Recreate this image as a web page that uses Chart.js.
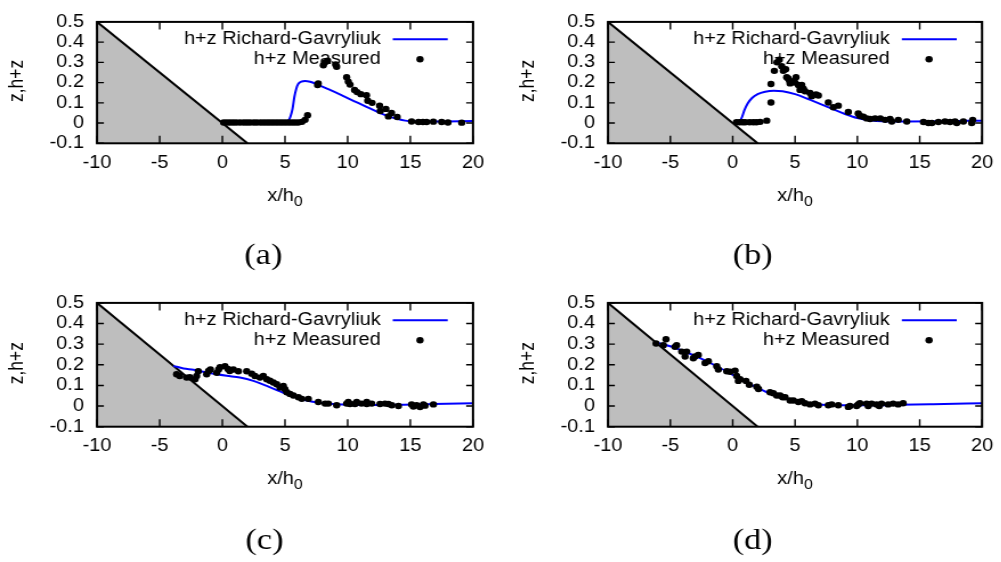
<!DOCTYPE html>
<html>
<head>
<meta charset="utf-8">
<script src="https://cdn.jsdelivr.net/npm/chart.js@4.4.1/dist/chart.umd.min.js"></script>
<style>
  html, body { margin: 0; padding: 0; background: #fff; width: 1001px; height: 562px; overflow: hidden; }
  .panel { position: absolute; transform: scaleX(1.14); transform-origin: 0 0; }
  .panel canvas { display: block; }
</style>
</head>
<body>
<div class="panel" style="left:0px;top:0px"><canvas id="panel-a" width="439" height="281"></canvas></div>
<div class="panel" style="left:511px;top:0px"><canvas id="panel-b" width="439" height="281"></canvas></div>
<div class="panel" style="left:0px;top:281px"><canvas id="panel-c" width="439" height="281"></canvas></div>
<div class="panel" style="left:511px;top:281px"><canvas id="panel-d" width="439" height="281"></canvas></div>
<script>
const xTicks = [-10, -5, 0, 5, 10, 15, 20]
const xTickLabels = ['-10', '-5', '0', '5', '10', '15', '20']
const yTicks = [-0.1, 0, 0.1, 0.2, 0.3, 0.4, 0.5]
const yTickLabels = ['-0.1', '0', '0.1', '0.2', '0.3', '0.4', '0.5']

const xTitle = 'x/h'
const xTitleSub = '0'
const yTitle = 'z,h+z'
const curveLabel = 'h+z Richard-Gavryliuk'
const measuredLabel = 'h+z Measured'

// slope (beach) z = -0.05 x
const slopeX = [-10, 2]
const slopeZ = [0.5, -0.1]

// (a)
const aCurveX = [0, 2, 4, 5, 5.3, 5.45, 5.6, 5.75, 5.9, 6.05, 6.3, 6.6, 7, 7.6, 8.5, 9.5, 10.5, 11.5, 12.5, 13.3, 14, 14.6, 15.2, 17, 20]
const aCurveY = [0.008, 0.008, 0.008, 0.008, 0.014, 0.035, 0.07, 0.13, 0.17, 0.193, 0.205, 0.208, 0.204, 0.19, 0.166, 0.138, 0.109, 0.08, 0.052, 0.033, 0.02, 0.012, 0.009, 0.008, 0.01]
const aMeasX = [0.1, 0.35, 0.6, 0.85, 1.1, 1.4, 1.7, 1.95, 2.2, 2.5, 2.75, 3.05, 3.3, 3.55, 3.8, 4.05, 4.3, 4.55, 4.8, 5.05, 5.3, 5.55, 5.8, 6.05, 6.35, 6.6, 6.8, 7.6, 7.65, 8.06, 8.2, 8.4, 9.04, 9.12, 9.92, 10.05, 10.19, 10.55, 10.75, 11.05, 11.5, 11.6, 11.95, 12.55, 12.6, 13.05, 13.25, 13.5, 13.95, 15.1, 15.65, 16, 16.3, 16.84, 17.5, 18, 19.1]
const aMeasY = [0.003, 0.003, 0.003, 0.003, 0.003, 0.003, 0.003, 0.003, 0.003, 0.003, 0.003, 0.003, 0.003, 0.003, 0.003, 0.003, 0.003, 0.003, 0.003, 0.003, 0.003, 0.003, 0.003, 0.003, 0.006, 0.016, 0.039, 0.188, 0.196, 0.286, 0.3, 0.308, 0.29, 0.278, 0.227, 0.205, 0.19, 0.164, 0.153, 0.143, 0.138, 0.11, 0.1, 0.086, 0.06, 0.07, 0.033, 0.05, 0.03, 0.008, 0.005, 0.005, 0.005, 0.007, 0.005, 0.003, 0.002]

// (b)
const bCurveX = [0.3, 0.55, 0.75, 0.95, 1.2, 1.55, 2, 2.6, 3.3, 4, 5, 6, 7, 8, 9, 10, 11, 12, 14, 17, 20]
const bCurveY = [0.004, 0.008, 0.03, 0.065, 0.097, 0.124, 0.143, 0.155, 0.16, 0.157, 0.143, 0.12, 0.095, 0.07, 0.045, 0.025, 0.014, 0.009, 0.008, 0.009, 0.012]
const bMeasX = [0.3, 0.55, 0.8, 1, 1.35, 1.65, 1.9, 2.2, 2.73, 3.07, 3.07, 3.34, 3.55, 3.74, 3.93, 4.06, 4.25, 4.33, 4.45, 4.54, 4.6, 4.7, 4.86, 5, 5.08, 5.26, 5.4, 5.54, 5.67, 5.8, 6.2, 6.34, 6.68, 6.87, 7.67, 8.07, 8.47, 9.27, 10.07, 10.2, 10.48, 10.75, 11.02, 11.42, 11.84, 12.23, 12.62, 12.76, 13.28, 13.96, 15.3, 15.7, 15.97, 16.5, 17.03, 17.43, 17.83, 17.97, 18.5, 19.17, 19.25]
const bMeasY = [0.004, 0.004, 0.004, 0.004, 0.004, 0.004, 0.004, 0.006, 0.012, 0.102, 0.193, 0.258, 0.3, 0.313, 0.281, 0.258, 0.266, 0.227, 0.22, 0.211, 0.196, 0.205, 0.203, 0.2, 0.227, 0.188, 0.164, 0.188, 0.17, 0.157, 0.149, 0.133, 0.141, 0.136, 0.102, 0.078, 0.086, 0.055, 0.047, 0.036, 0.031, 0.023, 0.02, 0.023, 0.023, 0.016, 0.02, 0.008, 0.016, 0.008, 0.005, 0, 0, 0.005, 0.008, 0.005, 0.008, 0, 0.008, 0, 0.016]

// (c)
const cCurveX = [-3.9, -3.1, -2.3, -1.25, 0.35, 1.4, 2.47, 3.54, 4.6, 5.67, 6.73, 7.8, 8.86, 10, 11.5, 14.2, 16.84, 20]
const cCurveY = [0.195, 0.182, 0.176, 0.163, 0.147, 0.138, 0.122, 0.098, 0.071, 0.046, 0.027, 0.016, 0.01, 0.007, 0.005, 0.006, 0.01, 0.014]
const cMeasX = [-3.65, -3.4, -2.85, -2.6, -2.18, -2.05, -1.92, -1.25, -1.1, -0.95, -0.45, -0.3, -0.19, 0.21, 0.45, 0.59, 0.88, 1.28, 1.94, 2.34, 2.6, 3, 3.27, 3.54, 3.8, 4.07, 4.34, 4.6, 4.87, 5, 5.14, 5.4, 5.67, 6.07, 6.34, 6.86, 7.66, 8.2, 8.46, 9.12, 9.92, 10.05, 10.19, 10.58, 10.72, 11.1, 11.52, 11.52, 11.92, 12.58, 12.98, 13.25, 13.52, 14.05, 15.1, 15.24, 15.5, 15.77, 16.04, 16.17, 16.84]
const cMeasY = [0.154, 0.146, 0.138, 0.14, 0.13, 0.146, 0.169, 0.154, 0.17, 0.177, 0.161, 0.177, 0.188, 0.193, 0.18, 0.17, 0.177, 0.169, 0.169, 0.157, 0.146, 0.138, 0.146, 0.13, 0.123, 0.114, 0.106, 0.09, 0.098, 0.082, 0.067, 0.059, 0.051, 0.043, 0.035, 0.035, 0.02, 0.012, 0.012, 0.004, 0.012, 0.02, 0.01, 0.01, 0.02, 0.012, 0.01, 0.02, 0.012, 0.01, 0.012, 0.01, 0.004, 0, 0.008, -0.002, 0.004, -0.005, 0.008, 0.002, 0.008]

// (d)
const dCurveX = [-6.2, -4.76, -2.62, -1.28, 0.05, 1.39, 2.73, 4.06, 5.4, 6.74, 8.07, 10.74, 13.4, 16.07, 20]
const dCurveY = [0.31, 0.285, 0.232, 0.193, 0.15, 0.106, 0.067, 0.04, 0.02, 0.009, 0.004, 0.004, 0.006, 0.009, 0.014]
const dMeasX = [-6.15, -5.56, -5.35, -4.63, -4.5, -4.09, -3.82, -3.69, -3.16, -3.02, -2.76, -2.22, -1.95, -1.28, -1.15, -0.48, -0.21, 0.19, 0.32, 0.45, 0.59, 1.07, 1.33, 1.93, 2.07, 2.99, 3.26, 3.53, 3.8, 4, 4.2, 4.6, 4.87, 5.27, 5.54, 5.8, 6.2, 6.6, 6.87, 7.67, 7.94, 8.47, 9.27, 9.4, 9.94, 10.07, 10.2, 10.74, 10.87, 11.14, 11.54, 11.75, 11.94, 12.47, 12.87, 13.27, 13.67]
const dMeasY = [0.303, 0.295, 0.324, 0.287, 0.295, 0.264, 0.24, 0.264, 0.232, 0.24, 0.248, 0.209, 0.217, 0.193, 0.177, 0.169, 0.166, 0.172, 0.146, 0.122, 0.13, 0.122, 0.103, 0.094, 0.083, 0.067, 0.062, 0.051, 0.051, 0.043, 0.043, 0.027, 0.027, 0.02, 0.024, 0.014, 0.008, 0.012, 0.004, 0.004, 0.008, 0.004, -0.004, 0, 0, 0.008, 0.014, 0.012, 0, 0.012, 0.008, 0, 0.012, 0.008, 0.012, 0.008, 0.014]

const fuente = '"Liberation Sans", Arial, sans-serif'
const fuenteSerif = '"Liberation Serif", "Times New Roman", serif'

const paneles = [
  { id: '#panel-a', caption: '(a)', curveX: aCurveX, curveY: aCurveY, measX: aMeasX, measY: aMeasY, padTop: 15, padRight: 24.1, xAxisH: 137.7, capX: 231, capY: 256 },
  { id: '#panel-b', caption: '(b)', curveX: bCurveX, curveY: bCurveY, measX: bMeasX, measY: bMeasY, padTop: 15, padRight: 25.8, xAxisH: 137.7, capX: 212, capY: 256 },
  { id: '#panel-c', caption: '(c)', curveX: cCurveX, curveY: cCurveY, measX: cMeasX, measY: cMeasY, padTop: 19, padRight: 24.1, xAxisH: 135.3, capX: 232, capY: 260 },
  { id: '#panel-d', caption: '(d)', curveX: dCurveX, curveY: dCurveY, measX: dMeasX, measY: dMeasY, padTop: 19, padRight: 25.8, xAxisH: 135.3, capX: 212, capY: 260 }
]

const toPoints = (xs, ys) => xs.map((x, i) => ({ x, y: ys[i] }))

// frame with inward ticks on all sides, key, axis titles and subcaption
const marcoPlugin = {
  id: 'marco',
  afterDraw(chart, args, opts) {
    const { ctx, chartArea: a, scales: { x, y } } = chart
    ctx.save()
    ctx.strokeStyle = '#000'
    ctx.lineWidth = 1.4
    ctx.beginPath()
    xTicks.forEach(v => {
      const px = x.getPixelForValue(v)
      ctx.moveTo(px, a.bottom); ctx.lineTo(px, a.bottom - 7.5)
      ctx.moveTo(px, a.top); ctx.lineTo(px, a.top + 7.5)
    })
    yTicks.forEach(v => {
      const py = y.getPixelForValue(v)
      ctx.moveTo(a.left, py); ctx.lineTo(a.left + 6, py)
      ctx.moveTo(a.right, py); ctx.lineTo(a.right - 6, py)
    })
    ctx.stroke()
    ctx.lineWidth = 2
    ctx.strokeRect(a.left, a.top, a.right - a.left, a.bottom - a.top)

    // key
    const measSet = chart.data.datasets[0]
    const curveSet = chart.data.datasets[1]
    const row1 = a.top + 17.3
    const row2 = a.top + 37.3
    ctx.fillStyle = '#000'
    ctx.font = '17.5px ' + fuente
    ctx.textAlign = 'right'
    ctx.textBaseline = 'middle'
    ctx.fillText(curveSet.label, a.right - 80.9, row1)
    ctx.fillText(measSet.label, a.right - 80.9, row2)
    ctx.strokeStyle = curveSet.borderColor
    ctx.lineWidth = 2
    ctx.beginPath()
    ctx.moveTo(a.right - 70.4, row1)
    ctx.lineTo(a.right - 22.2, row1)
    ctx.stroke()
    ctx.beginPath()
    ctx.arc(a.right - 46.5, row2, 3.2, 0, Math.PI * 2)
    ctx.fill()

    // y title
    ctx.save()
    ctx.translate(14.9, (a.top + a.bottom) / 2 - 1.7)
    ctx.rotate(-Math.PI / 2)
    ctx.textAlign = 'center'
    ctx.fillText(yTitle, 0, 0)
    ctx.restore()

    // x title with subscript
    ctx.textAlign = 'left'
    ctx.textBaseline = 'alphabetic'
    const w1 = ctx.measureText(xTitle).width
    ctx.font = '14px ' + fuente
    const w2 = ctx.measureText(xTitleSub).width
    const x0 = (a.left + a.right) / 2 - (w1 + w2) / 2
    const base = a.bottom + 57.7
    ctx.font = '17.5px ' + fuente
    ctx.fillText(xTitle, x0, base)
    ctx.font = '14px ' + fuente
    ctx.fillText(xTitleSub, x0 + w1, base + 5)

    // subcaption
    ctx.font = '30px ' + fuenteSerif
    ctx.textAlign = 'center'
    ctx.textBaseline = 'middle'
    ctx.fillText(opts.caption, opts.capX, opts.capY)
    ctx.restore()
  }
}

const crearPanel = (panel) => {
  const ctx = document.querySelector(panel.id).getContext('2d')
  const tickFont = { family: fuente, size: 17.5 }

  new Chart(ctx, {
    type: 'scatter',
    data: {
      datasets: [
        {
          label: measuredLabel,
          data: toPoints(panel.measX, panel.measY),
          pointRadius: 3.2,
          pointBackgroundColor: '#000',
          pointBorderWidth: 0,
          order: 1
        },
        {
          label: curveLabel,
          type: 'line',
          data: toPoints(panel.curveX, panel.curveY),
          borderColor: '#0000ff',
          borderWidth: 2,
          pointRadius: 0,
          fill: false,
          cubicInterpolationMode: 'monotone',
          order: 2
        },
        {
          label: 'slope',
          type: 'line',
          data: toPoints(slopeX, slopeZ),
          borderColor: '#000',
          borderWidth: 2,
          backgroundColor: '#bebebe',
          fill: 'start',
          pointRadius: 0,
          order: 3
        }
      ]
    },
    options: {
      responsive: false,
      animation: false,
      events: [],
      layout: { padding: { top: panel.padTop, right: panel.padRight, left: 0, bottom: 0 } },
      plugins: {
        legend: { display: false },
        tooltip: { enabled: false },
        marco: { caption: panel.caption, capX: panel.capX, capY: panel.capY }
      },
      scales: {
        x: {
          type: 'linear',
          min: -10,
          max: 20,
          grid: { display: false, drawTicks: false },
          border: { display: false },
          afterBuildTicks: s => { s.ticks = xTicks.map(v => ({ value: v })) },
          afterFit: s => { s.height = panel.xAxisH },
          ticks: { padding: 9, color: '#000', font: tickFont, autoSkip: false, maxRotation: 0, callback: (v, i) => xTickLabels[i] }
        },
        y: {
          type: 'linear',
          min: -0.1,
          max: 0.5,
          grid: { display: false, drawTicks: false },
          border: { display: false },
          afterBuildTicks: s => { s.ticks = yTicks.map(v => ({ value: v })) },
          afterFit: s => { s.width = 85.1 },
          ticks: { padding: 11.4, color: '#000', font: tickFont, autoSkip: false, callback: (v, i) => yTickLabels[i] }
        }
      }
    },
    plugins: [marcoPlugin]
  })
}

paneles.forEach(crearPanel)
</script>
</body>
</html>
